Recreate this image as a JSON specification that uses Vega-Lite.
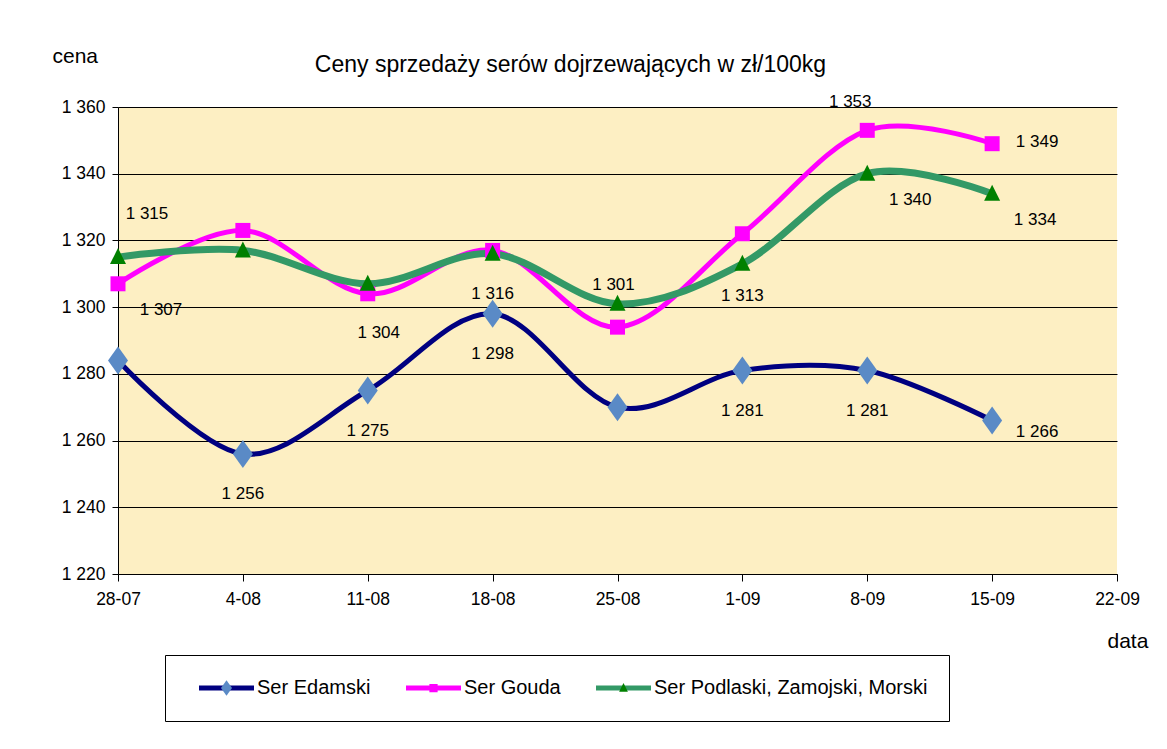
{
  "$schema": "https://vega.github.io/schema/vega-lite/v6.json",
  "autosize": {"type": "none"},
  "width": 999,
  "height": 467,
  "padding": {"left": 118, "top": 107, "right": 50, "bottom": 175},
  "background": "#ffffff",
  "view": {"fill": "#FDEFC3", "stroke": null},
  "title": {
    "text": "Ceny sprzedaży serów dojrzewających w zł/100kg",
    "frame": "group",
    "anchor": "middle",
    "dx": -47,
    "dy": 23,
    "offset": -27,
    "baseline": "alphabetic",
    "font": "Liberation Sans, Arial, sans-serif",
    "fontSize": 23,
    "fontWeight": "normal",
    "color": "#000000"
  },
  "data": {
    "values": [
      {"date": "28-07", "series": "Ser Edamski", "price": 1284},
      {"date": "4-08", "series": "Ser Edamski", "price": 1256},
      {"date": "11-08", "series": "Ser Edamski", "price": 1275},
      {"date": "18-08", "series": "Ser Edamski", "price": 1298},
      {"date": "25-08", "series": "Ser Edamski", "price": 1270},
      {"date": "1-09", "series": "Ser Edamski", "price": 1281},
      {"date": "8-09", "series": "Ser Edamski", "price": 1281},
      {"date": "15-09", "series": "Ser Edamski", "price": 1266},
      {"date": "28-07", "series": "Ser Gouda", "price": 1307},
      {"date": "4-08", "series": "Ser Gouda", "price": 1323},
      {"date": "11-08", "series": "Ser Gouda", "price": 1304},
      {"date": "18-08", "series": "Ser Gouda", "price": 1317},
      {"date": "25-08", "series": "Ser Gouda", "price": 1294},
      {"date": "1-09", "series": "Ser Gouda", "price": 1322},
      {"date": "8-09", "series": "Ser Gouda", "price": 1353},
      {"date": "15-09", "series": "Ser Gouda", "price": 1349},
      {"date": "28-07", "series": "Ser Podlaski, Zamojski, Morski", "price": 1315},
      {"date": "4-08", "series": "Ser Podlaski, Zamojski, Morski", "price": 1317},
      {"date": "11-08", "series": "Ser Podlaski, Zamojski, Morski", "price": 1307},
      {"date": "18-08", "series": "Ser Podlaski, Zamojski, Morski", "price": 1316},
      {"date": "25-08", "series": "Ser Podlaski, Zamojski, Morski", "price": 1301},
      {"date": "1-09", "series": "Ser Podlaski, Zamojski, Morski", "price": 1313},
      {"date": "8-09", "series": "Ser Podlaski, Zamojski, Morski", "price": 1340},
      {"date": "15-09", "series": "Ser Podlaski, Zamojski, Morski", "price": 1334}
    ]
  },
  "encoding": {
    "x": {
      "field": "date",
      "type": "nominal",
      "sort": null,
      "scale": {"type": "point", "padding": 0, "domain": ["28-07", "4-08", "11-08", "18-08", "25-08", "1-09", "8-09", "15-09", "22-09"]},
      "axis": {
        "labelAngle": 0,
        "labelFont": "Liberation Sans, Arial, sans-serif",
        "labelFontSize": 17.5,
        "labelColor": "#000000",
        "labelPadding": 9,
        "tickSize": 7,
        "tickColor": "#000000",
        "domainColor": "#000000",
        "grid": false,
        "title": "data",
        "titleFont": "Liberation Sans, Arial, sans-serif",
        "titleFontSize": 21,
        "titleFontWeight": "normal",
        "titleColor": "#000000",
        "titleAlign": "left",
        "titleBaseline": "alphabetic",
        "titleX": 989,
        "titleY": 73
      }
    },
    "y": {
      "field": "price",
      "type": "quantitative",
      "scale": {"domain": [1220, 1360], "nice": false, "zero": false},
      "axis": {
        "values": [1220, 1240, 1260, 1280, 1300, 1320, 1340, 1360],
        "format": ",d",
        "labelFont": "Liberation Sans, Arial, sans-serif",
        "labelFontSize": 17.5,
        "labelColor": "#000000",
        "labelPadding": 7,
        "tickSize": 6,
        "tickColor": "#000000",
        "domainColor": "#000000",
        "grid": true,
        "gridColor": "#000000",
        "gridWidth": 1,
        "gridOpacity": 1,
        "title": "cena",
        "titleFont": "Liberation Sans, Arial, sans-serif",
        "titleFontSize": 21,
        "titleFontWeight": "normal",
        "titleColor": "#000000",
        "titleAngle": 0,
        "titleAlign": "left",
        "titleBaseline": "alphabetic",
        "titleX": -66,
        "titleY": -45
      }
    }
  },
  "layer": [
    {
      "transform": [{"filter": "datum.series !== 'Ser Podlaski, Zamojski, Morski'"}],
      "mark": {"type": "line", "strokeWidth": 5, "interpolate": "cardinal", "tension": 0},
      "encoding": {
        "color": {
          "field": "series",
          "type": "nominal",
          "scale": {"range": ["#000080", "#FF00FF", "#339966"]},
          "legend": {
            "orient": "none", "legendX": 47, "legendY": 548, "direction": "horizontal", "title": null,
            "symbolType": "M-1,-0.09H1V0.09H-1Z", "symbolSize": 3025, "symbolStrokeWidth": 0,
            "labelFont": "Liberation Sans, Arial, sans-serif", "labelFontSize": 20, "labelColor": "#000000",
            "labelLimit": 500, "labelOffset": 3, "symbolOffset": 13, "columnPadding": 22, "padding": 21, "clipHeight": 24,
            "strokeColor": "#000000", "fillColor": "#ffffff",
            "encode": {"symbols": {"update": {"fill": {"scale": "color", "field": "value"}, "stroke": {"value": "transparent"}}}}
          }
        }
      }
    },
    {
      "transform": [{"filter": "datum.series === 'Ser Podlaski, Zamojski, Morski'"}],
      "mark": {"type": "line", "strokeWidth": 7, "interpolate": "cardinal", "tension": 0},
      "encoding": {
        "color": {
          "field": "series",
          "type": "nominal",
          "scale": {"range": ["#000080", "#FF00FF", "#339966"]},
          "legend": {
            "orient": "none", "legendX": 47, "legendY": 548, "direction": "horizontal", "title": null,
            "symbolType": "M-1,-0.09H1V0.09H-1Z", "symbolSize": 3025, "symbolStrokeWidth": 0,
            "labelFont": "Liberation Sans, Arial, sans-serif", "labelFontSize": 20, "labelColor": "#000000",
            "labelLimit": 500, "labelOffset": 3, "symbolOffset": 13, "columnPadding": 22, "padding": 21, "clipHeight": 24,
            "strokeColor": "#000000", "fillColor": "#ffffff",
            "encode": {"symbols": {"update": {"fill": {"scale": "color", "field": "value"}, "stroke": {"value": "transparent"}}}}
          }
        }
      }
    },
    {
      "mark": {"type": "point", "filled": true, "size": 10000, "opacity": 1, "strokeWidth": 0},
      "encoding": {
        "fill": {
          "field": "series",
          "type": "nominal",
          "scale": {"domain": ["Ser Edamski", "Ser Gouda", "Ser Podlaski, Zamojski, Morski"], "range": ["#5A8AC6", "#FF00FF", "#008000"]},
          "legend": {
            "orient": "none", "legendX": 47, "legendY": 548, "direction": "horizontal", "title": null,
            "symbolSize": 3025, "symbolStrokeWidth": 0,
            "labelFont": "Liberation Sans, Arial, sans-serif", "labelFontSize": 20, "labelColor": "#000000", "labelOpacity": 0,
            "labelLimit": 500, "labelOffset": 3, "symbolOffset": 13, "columnPadding": 22, "padding": 21, "clipHeight": 24
          }
        },
        "shape": {
          "field": "series",
          "type": "nominal",
          "scale": {"domain": ["Ser Edamski", "Ser Gouda", "Ser Podlaski, Zamojski, Morski"], "range": ["M0,-0.28L0.2,0L0,0.28L-0.2,0Z", "M-0.15,-0.15H0.15V0.15H-0.15Z", "M0,-0.18L0.16,0.14H-0.16Z"]},
          "legend": {
            "orient": "none", "legendX": 47, "legendY": 548, "direction": "horizontal", "title": null,
            "symbolSize": 3025, "symbolStrokeWidth": 0,
            "labelFont": "Liberation Sans, Arial, sans-serif", "labelFontSize": 20, "labelColor": "#000000", "labelOpacity": 0,
            "labelLimit": 500, "labelOffset": 3, "symbolOffset": 13, "columnPadding": 22, "padding": 21, "clipHeight": 24
          }
        }
      }
    },
    {
      "transform": [{"filter": "(datum.series === 'Ser Edamski' && indexof(['4-08','11-08','18-08','1-09','8-09'], datum.date) >= 0) || (datum.series === 'Ser Podlaski, Zamojski, Morski' && datum.date === '18-08')"}],
      "mark": {"type": "text", "dx": 0, "dy": 40, "font": "Liberation Sans, Arial, sans-serif", "fontSize": 17, "color": "#000000", "baseline": "middle", "align": "center"},
      "encoding": {"text": {"field": "price", "type": "quantitative", "format": ",d"}}
    },
    {
      "transform": [{"filter": "datum.series === 'Ser Gouda' && datum.date === '11-08'"}],
      "mark": {"type": "text", "dx": 11, "dy": 39, "font": "Liberation Sans, Arial, sans-serif", "fontSize": 17, "color": "#000000", "baseline": "middle", "align": "center"},
      "encoding": {"text": {"field": "price", "type": "quantitative", "format": ",d"}}
    },
    {
      "transform": [{"filter": "datum.series === 'Ser Edamski' && datum.date === '15-09'"}],
      "mark": {"type": "text", "dx": 45, "dy": 11, "font": "Liberation Sans, Arial, sans-serif", "fontSize": 17, "color": "#000000", "baseline": "middle", "align": "center"},
      "encoding": {"text": {"field": "price", "type": "quantitative", "format": ",d"}}
    },
    {
      "transform": [{"filter": "datum.series === 'Ser Gouda' && datum.date === '15-09'"}],
      "mark": {"type": "text", "dx": 45, "dy": -2, "font": "Liberation Sans, Arial, sans-serif", "fontSize": 17, "color": "#000000", "baseline": "middle", "align": "center"},
      "encoding": {"text": {"field": "price", "type": "quantitative", "format": ",d"}}
    },
    {
      "transform": [{"filter": "datum.series === 'Ser Podlaski, Zamojski, Morski' && datum.date === '1-09'"}],
      "mark": {"type": "text", "dx": 0, "dy": 32, "font": "Liberation Sans, Arial, sans-serif", "fontSize": 17, "color": "#000000", "baseline": "middle", "align": "center"},
      "encoding": {"text": {"field": "price", "type": "quantitative", "format": ",d"}}
    },
    {
      "transform": [{"filter": "(datum.series === 'Ser Gouda' && datum.date === '28-07') || (datum.series === 'Ser Podlaski, Zamojski, Morski' && indexof(['8-09','15-09'], datum.date) >= 0)"}],
      "mark": {"type": "text", "dx": 43, "dy": 26, "font": "Liberation Sans, Arial, sans-serif", "fontSize": 17, "color": "#000000", "baseline": "middle", "align": "center"},
      "encoding": {"text": {"field": "price", "type": "quantitative", "format": ",d"}}
    },
    {
      "transform": [{"filter": "datum.series === 'Ser Podlaski, Zamojski, Morski' && datum.date === '28-07'"}],
      "mark": {"type": "text", "dx": 29, "dy": -43, "font": "Liberation Sans, Arial, sans-serif", "fontSize": 17, "color": "#000000", "baseline": "middle", "align": "center"},
      "encoding": {"text": {"field": "price", "type": "quantitative", "format": ",d"}}
    },
    {
      "transform": [{"filter": "datum.series === 'Ser Gouda' && datum.date === '8-09'"}],
      "mark": {"type": "text", "dx": -17, "dy": -28, "font": "Liberation Sans, Arial, sans-serif", "fontSize": 17, "color": "#000000", "baseline": "middle", "align": "center"},
      "encoding": {"text": {"field": "price", "type": "quantitative", "format": ",d"}}
    },
    {
      "transform": [{"filter": "datum.series === 'Ser Podlaski, Zamojski, Morski' && datum.date === '25-08'"}],
      "mark": {"type": "text", "dx": -4, "dy": -19, "font": "Liberation Sans, Arial, sans-serif", "fontSize": 17, "color": "#000000", "baseline": "middle", "align": "center"},
      "encoding": {"text": {"field": "price", "type": "quantitative", "format": ",d"}}
    }
  ],
  "config": {
    "locale": {"number": {"decimal": ",", "thousands": " ", "grouping": [3], "currency": ["", " zł"]}}
  }
}
